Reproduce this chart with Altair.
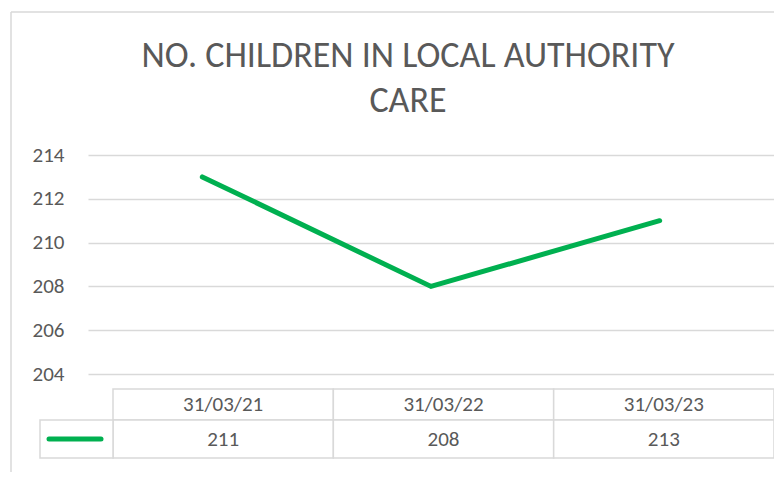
import altair as alt
import pandas as pd

# ---- data ----
dates = ["31/03/21", "31/03/22", "31/03/23"]
line_values = [213, 208, 211]      # plotted line
table_values = [211, 208, 213]     # values printed in the data table
y_ticks = [204, 206, 208, 210, 212, 214]
title_lines = ["NO. CHILDREN IN LOCAL AUTHORITY", "CARE"]

GREEN = "#00b050"
GRID = "#d9d9d9"
TXT = "#595959"
FONT = "Calibri, Carlito, Lato"

df = pd.DataFrame({"date": dates, "line": line_values, "table": [str(v) for v in table_values]})

xline = alt.X("date:N", sort=dates, axis=None, scale=alt.Scale(type="point", padding=0.5))

line = alt.Chart(df).mark_line(color=GREEN, strokeWidth=5, strokeCap="round", strokeJoin="miter").encode(
    x=xline,
    y=alt.Y("line:Q", scale=alt.Scale(domain=[204, 214], nice=False, zero=False),
            axis=alt.Axis(values=y_ticks, title=None, domain=False, ticks=False, labelPadding=24,
                          grid=True, gridColor=GRID, gridWidth=1.3,
                          labelFont=FONT, labelFontSize=21, labelColor=TXT)),
)

xtab = alt.X("date:N", sort=dates, axis=None,
             scale=alt.Scale(type="band", range=[25, 686], paddingInner=0, paddingOuter=0))

base = alt.Chart(df)
head_cells = base.mark_rect(fill="white", stroke=GRID, strokeWidth=1.5).encode(
    x=xtab, y=alt.value(234), y2=alt.value(265))
data_cells = base.mark_rect(fill="white", stroke=GRID, strokeWidth=1.5).encode(
    x=xtab, y=alt.value(265), y2=alt.value(303))
head_text = base.mark_text(font=FONT, fontSize=21, color=TXT, baseline="middle").encode(
    x=xtab, y=alt.value(250), text="date:N")
data_text = base.mark_text(font=FONT, fontSize=21, color=TXT, baseline="middle").encode(
    x=xtab, y=alt.value(285), text="table:N")

one = alt.Data(values=[{"k": 1}])
legend_cell = alt.Chart(one).mark_rect(fill="white", stroke=GRID, strokeWidth=1.5).encode(
    x=alt.value(-48), x2=alt.value(25), y=alt.value(265), y2=alt.value(303))
legend_sym = alt.Chart(one).mark_rule(color=GREEN, strokeWidth=5, strokeCap="round").encode(
    x=alt.value(-39), x2=alt.value(13), y=alt.value(284))

border_top = alt.Chart(one).mark_rule(color=GRID, strokeWidth=1.5).encode(
    x=alt.value(-77), x2=alt.value(700), y=alt.value(-143))
border_left = alt.Chart(one).mark_rule(color=GRID, strokeWidth=1.5).encode(
    x=alt.value(-77), y=alt.value(-143), y2=alt.value(330))

title_marks = [
    alt.Chart(one).mark_text(font=FONT, fontSize=36, fontWeight=300, color=TXT,
                             align="center", baseline="middle").encode(
        x=alt.value(320), y=alt.value(yv), text=alt.value(t))
    for t, yv in zip(title_lines, [-99, -54])
]

chart = alt.layer(
    border_top, border_left, *title_marks, line,
    head_cells, data_cells, head_text, data_text, legend_cell, legend_sym,
).resolve_scale(x="independent").properties(
    width=686, height=219,
    autosize=alt.AutoSizeParams(type="none"),
    padding={"left": 80, "top": 147, "right": 0, "bottom": 98},
).configure_view(stroke=None)

chart.save("out.html", embed_options={"renderer": "svg", "actions": False})
